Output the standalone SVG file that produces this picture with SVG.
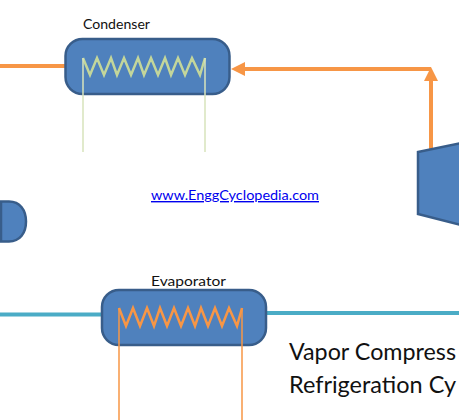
<svg xmlns="http://www.w3.org/2000/svg" width="459" height="420" viewBox="0 0 459 420">
<style>
text{font-family:"Lato","Open Sans",sans-serif;fill:#111}
.body{fill:#4f81bd;stroke:#385d8a;stroke-width:2.5}
.pipe{fill:none;stroke:#f79646;stroke-width:4}
.cold{fill:none;stroke:#4bacc6;stroke-width:4}
.coilg{fill:none;stroke:#c3d69b;stroke-width:2.500}
.legg{fill:none;stroke:#d7e4bc;stroke-width:1.5}
.coilo{fill:none;stroke:#f79646;stroke-width:2.500}
.lego{fill:none;stroke:#f79646;stroke-width:1.5}
</style>
<rect width="459" height="420" fill="#fff"/>
<g id="connectors">
<path class="pipe" d="M0 66H66"/>
<path class="pipe" d="M243 69H431"/>
<path fill="#f79646" d="M231 69L245 62V76Z"/>
<path class="pipe" d="M431 150V78"/>
<path fill="#f79646" d="M431 67L438 81H424Z"/>
<path class="cold" d="M0 314.500H103"/>
<path class="cold" d="M265 313H459"/>
<path stroke="#4f81bd" stroke-width="2" d="M0 221H2"/>
</g>
<g id="condenser">
<rect class="body" x="65.500" y="39" width="164" height="55" rx="17"/>
<path class="coilg" d="M83 58L90 75L97 58L104 75L111 58L117 75L124 58L131 75L138 58L144 75L151 58L158 75L165 58L171 75L178 58L185 75L192 58L200 75L205 58"/>
<path class="legg" d="M83 58V152M205 58V152"/>
<text x="83" y="29" font-size="12.500" textLength="67" lengthAdjust="spacingAndGlyphs">Condenser</text>
</g>
<g id="evaporator">
<rect class="body" x="102" y="290" width="164" height="55" rx="17"/>
<path class="coilo" d="M119 308L126 326L133 308L140 326L147 308L154 326L160 308L167 326L174 308L181 326L188 308L195 326L201 308L208 326L215 308L222 326L229 308L237 326L242 308"/>
<path class="lego" d="M119 308V420M242 308V420"/>
<text x="151" y="286" font-size="13" textLength="75" lengthAdjust="spacingAndGlyphs">Evaporator</text>
</g>
<g id="compressor">
<path class="body" d="M418 152L461 143V225L418 214Z"/>
</g>
<g id="valve">
<path class="body" d="M1 201.500H9C20 201.500 26 210 26 221.500C26 233 20 241.500 9 241.500H1Z"/>
</g>
<g id="link">
<text x="151" y="200" font-size="14" textLength="168" lengthAdjust="spacingAndGlyphs" text-decoration="underline" style="fill:#0000ee">www.EnggCyclopedia.com</text>
</g>
<g id="title">
<text x="289" y="360" font-size="23" textLength="167" lengthAdjust="spacingAndGlyphs">Vapor Compress</text>
<text x="289" y="393" font-size="23" textLength="167" lengthAdjust="spacingAndGlyphs">Refrigeration Cy</text>
</g>
</svg>
